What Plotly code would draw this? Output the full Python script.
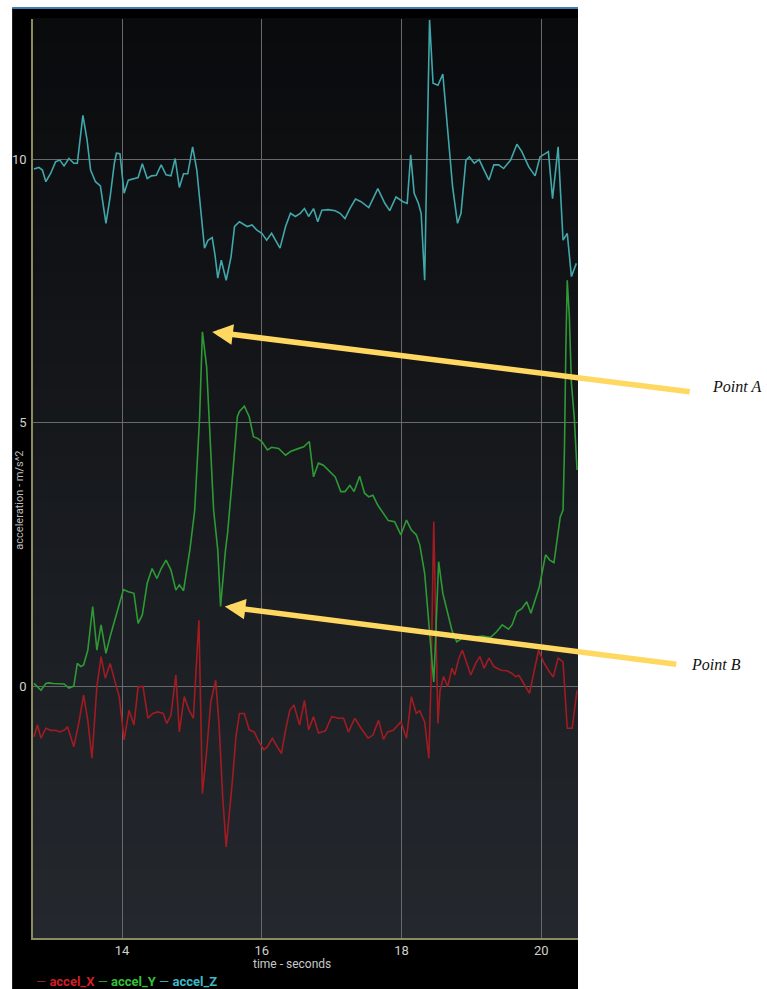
import plotly.graph_objects as go

# ---- data ----
z_t = [12.74, 12.81, 12.86, 12.91, 12.98, 13.05, 13.11, 13.17, 13.24, 13.31, 13.36, 13.44, 13.50, 13.55,
       13.62, 13.69, 13.77, 13.83, 13.89, 13.92, 13.97, 14.03, 14.09, 14.16, 14.23, 14.29, 14.36, 14.42,
       14.49, 14.56, 14.63, 14.70, 14.76, 14.82, 14.88, 14.94, 15.01, 15.07, 15.13, 15.18, 15.23, 15.29,
       15.33, 15.37, 15.42, 15.49, 15.56, 15.61, 15.68, 15.79, 15.86, 15.93, 16.00, 16.07, 16.14, 16.20,
       16.26, 16.34, 16.41, 16.48, 16.55, 16.61, 16.67, 16.74, 16.80, 16.86, 16.95, 17.05, 17.12, 17.19,
       17.26, 17.34, 17.42, 17.53, 17.66, 17.76, 17.83, 17.92, 18.02, 18.08, 18.13, 18.18, 18.24, 18.28,
       18.33, 18.36, 18.40, 18.45, 18.52, 18.59, 18.66, 18.73, 18.80, 18.85, 18.92, 18.97, 19.04, 19.11,
       19.18, 19.25, 19.32, 19.39, 19.46, 19.56, 19.65, 19.72, 19.82, 19.91, 19.98, 20.10, 20.16, 20.24,
       20.31, 20.37, 20.43, 20.50]
z_v = [9.81, 9.84, 9.79, 9.57, 9.73, 9.95, 9.98, 9.87, 10.01, 9.92, 9.92, 10.83, 10.36, 9.79,
       9.57, 9.49, 8.78, 9.28, 9.92, 10.11, 10.10, 9.35, 9.60, 9.63, 9.65, 9.91, 9.63, 9.68,
       9.69, 9.89, 9.70, 9.68, 10.01, 9.46, 9.72, 9.72, 10.23, 9.79, 8.97, 8.31, 8.46, 8.51,
       8.18, 7.74, 8.08, 7.70, 8.15, 8.72, 8.81, 8.72, 8.75, 8.65, 8.59, 8.46, 8.59, 8.46,
       8.31, 8.72, 8.97, 8.91, 8.97, 9.06, 8.91, 9.06, 8.81, 9.03, 9.04, 9.02, 8.97, 8.87,
       9.06, 9.24, 9.19, 9.08, 9.44, 9.16, 9.02, 9.28, 9.19, 9.16, 10.08, 9.35, 9.16, 8.97,
       7.70, 9.85, 12.64, 11.44, 11.40, 11.61, 10.49, 9.47, 8.78, 8.97, 9.98, 10.04, 9.92, 9.99,
       9.79, 9.60, 9.89, 9.89, 9.82, 9.98, 10.28, 10.14, 9.85, 9.68, 10.04, 10.14, 9.25, 10.23,
       8.46, 8.59, 7.77, 8.02]

y_t = [12.74, 12.79, 12.84, 12.91, 12.95, 13.02, 13.10, 13.17, 13.24, 13.31, 13.36, 13.41, 13.45, 13.51,
       13.58, 13.64, 13.70, 13.77, 13.83, 13.90, 13.95, 14.02, 14.09, 14.17, 14.23, 14.29, 14.36, 14.43,
       14.50, 14.56, 14.63, 14.70, 14.77, 14.82, 14.88, 14.94, 14.97, 15.04, 15.11, 15.15, 15.21, 15.25,
       15.31, 15.37, 15.41, 15.48, 15.51, 15.58, 15.65, 15.68, 15.75, 15.82, 15.88, 15.94, 16.00, 16.08,
       16.14, 16.24, 16.34, 16.41, 16.48, 16.53, 16.60, 16.68, 16.74, 16.81, 16.88, 16.95, 17.05, 17.13,
       17.19, 17.26, 17.32, 17.40, 17.47, 17.53, 17.59, 17.66, 17.74, 17.81, 17.90, 17.99, 18.07, 18.14,
       18.21, 18.26, 18.33, 18.40, 18.46, 18.48, 18.53, 18.59, 18.65, 18.72, 18.79, 18.87, 18.97, 19.06,
       19.16, 19.27, 19.36, 19.44, 19.53, 19.58, 19.65, 19.72, 19.79, 19.85, 19.91, 19.97, 20.06, 20.12,
       20.18, 20.27, 20.31, 20.33, 20.35, 20.37, 20.40, 20.43, 20.47, 20.51]
y_v = [0.05, -0.01, -0.08, 0.05, 0.06, 0.05, 0.05, 0.04, -0.04, 0.00, 0.43, 0.37, 0.40, 0.68,
       1.51, 0.68, 1.16, 0.62, 0.94, 1.25, 1.51, 1.83, 1.79, 1.76, 1.19, 1.35, 1.95, 2.23,
       2.04, 2.23, 2.39, 2.20, 1.82, 1.92, 1.81, 2.33, 2.58, 3.34, 5.11, 6.72, 6.06, 4.98,
       3.34, 2.58, 1.51, 2.58, 2.90, 3.97, 5.11, 5.21, 5.31, 5.11, 4.73, 4.70, 4.64, 4.48,
       4.53, 4.51, 4.38, 4.45, 4.49, 4.51, 4.54, 4.64, 3.97, 4.23, 4.19, 4.10, 3.97, 3.69,
       3.69, 3.81, 3.69, 3.98, 3.66, 3.59, 3.62, 3.43, 3.28, 3.14, 3.12, 2.87, 3.15, 2.96,
       2.87, 2.68, 2.14, 1.06, 0.08, 0.68, 2.36, 1.76, 1.44, 1.06, 0.84, 0.91, 0.92, 0.94,
       0.95, 0.92, 1.03, 1.16, 1.08, 1.16, 1.41, 1.47, 1.60, 1.38, 1.63, 1.88, 2.49, 2.39,
       2.34, 3.21, 3.34, 4.48, 6.38, 7.70, 7.01, 5.74, 5.11, 4.10]

x_t = [12.74, 12.79, 12.84, 12.91, 12.98, 13.05, 13.11, 13.18, 13.22, 13.31, 13.38, 13.45, 13.51, 13.57,
       13.64, 13.70, 13.76, 13.83, 13.90, 13.96, 14.03, 14.10, 14.17, 14.23, 14.30, 14.37, 14.44, 14.51,
       14.59, 14.64, 14.70, 14.77, 14.82, 14.89, 14.96, 15.02, 15.10, 15.15, 15.21, 15.27, 15.34, 15.39,
       15.44, 15.49, 15.58, 15.63, 15.68, 15.75, 15.82, 15.89, 15.96, 16.03, 16.08, 16.15, 16.22, 16.28,
       16.34, 16.40, 16.46, 16.54, 16.61, 16.67, 16.74, 16.81, 16.91, 17.00, 17.10, 17.17, 17.24, 17.33,
       17.42, 17.52, 17.59, 17.67, 17.74, 17.80, 17.88, 17.99, 18.07, 18.14, 18.21, 18.26, 18.33, 18.39,
       18.42, 18.46, 18.48, 18.52, 18.55, 18.60, 18.66, 18.72, 18.76, 18.82, 18.87, 18.93, 18.99, 19.06,
       19.12, 19.18, 19.25, 19.32, 19.42, 19.51, 19.58, 19.63, 19.68, 19.72, 19.77, 19.83, 19.89, 19.96,
       20.03, 20.10, 20.17, 20.24, 20.31, 20.37, 20.44, 20.51]
x_v = [-0.96, -0.74, -0.99, -0.80, -0.84, -0.84, -0.87, -0.83, -0.77, -1.15, -0.71, -0.17, -0.65, -1.37,
       -0.01, 0.56, 0.15, 0.43, 0.08, -0.20, -1.02, -0.46, -0.74, -0.01, -0.01, -0.61, -0.52, -0.49,
       -0.52, -0.71, -0.55, 0.21, -0.87, -0.20, -0.46, -0.61, 1.25, -2.04, -1.25, -0.30, 0.11, -0.77,
       -2.10, -3.05, -1.78, -0.96, -0.52, -0.52, -0.83, -0.87, -1.06, -1.21, -1.15, -0.99, -1.15, -1.28,
       -0.83, -0.46, -0.36, -0.74, -0.27, -0.83, -0.58, -0.89, -0.85, -0.58, -0.61, -0.61, -0.87, -0.61,
       -0.80, -0.99, -0.93, -0.65, -1.01, -0.87, -0.84, -0.68, -0.99, -0.20, -0.52, -0.47, -0.68, -1.37,
       0.05, 3.12, 1.82, -0.71, -0.08, 0.18, -0.01, 0.34, 0.21, 0.53, 0.68, 0.43, 0.21, 0.43,
       0.56, 0.34, 0.53, 0.37, 0.30, 0.29, 0.24, 0.18, 0.20, 0.11, -0.01, -0.14, 0.24, 0.68,
       0.46, 0.30, 0.17, 0.53, 0.46, -0.80, -0.80, -0.08]

series_names = ["accel_X", "accel_Y", "accel_Z"]
x_ticks = [14, 16, 18, 20]
y_ticks = [0, 5, 10]

# ---- styling ----
line_cols = {"accel_X": "#a11c22", "accel_Y": "#2e9a35", "accel_Z": "#41a7aa"}
label_cols = {"accel_X": "#d21e22", "accel_Y": "#33c038", "accel_Z": "#3bb8c6"}

fig = go.Figure()
for name, tt, vv in [("accel_X", x_t, x_v), ("accel_Y", y_t, y_v), ("accel_Z", z_t, z_v)]:
    fig.add_trace(go.Scatter(x=tt, y=vv, mode="lines", name=name,
                             line=dict(color=line_cols[name], width=1.6), showlegend=False))

shapes = []
# dark panel behind the chart
shapes.append(dict(type="rect", xref="paper", yref="paper", x0=-0.0383, x1=1.0, y0=-0.056, y1=1.0120,
                   fillcolor="#000000", line=dict(width=0), layer="below"))
# gradient plot background
n = 40
top = (10, 11, 13)
bot = (36, 40, 46)
for i in range(n):
    f = i / (n - 1)
    c = tuple(int(round(bot[k] + (top[k] - bot[k]) * f)) for k in range(3))
    shapes.append(dict(type="rect", xref="paper", yref="paper", x0=0, x1=1,
                       y0=i / n, y1=(i + 1) / n + 0.001,
                       fillcolor="rgb(%d,%d,%d)" % c, line=dict(width=0), layer="below"))
# thin blue top border of the panel
shapes.append(dict(type="line", xref="paper", yref="paper", x0=-0.0383, x1=1.0, y0=1.0120, y1=1.0120,
                   line=dict(color="#3f7fae", width=2), layer="below"))

legend_text = " ".join(
    "<span style='color:%s'>—</span> <span style='color:%s'><b>%s</b></span>" % (line_cols[n_], label_cols[n_], n_)
    for n_ in series_names)

annotations = [
    dict(xref="paper", yref="paper", x=0.002, y=-0.0468, xanchor="left", yanchor="middle",
         text=legend_text, showarrow=False, font=dict(family="Roboto", size=13)),
    dict(xref="paper", yref="paper", x=0.475, y=-0.0285, xanchor="center", yanchor="middle",
         text="time - seconds", showarrow=False, font=dict(family="Roboto", size=12, color="#c8c8c8")),
    dict(xref="paper", yref="paper", x=-0.0255, y=0.476, xanchor="center", yanchor="middle",
         text="acceleration - m/s^2", textangle=-90, showarrow=False,
         font=dict(family="Roboto", size=11, color="#bdbdbd")),
    # arrows
    dict(xref="x", yref="y", x=15.29, y=6.72, ax=479, ay=60, axref="pixel", ayref="pixel",
         showarrow=True, arrowhead=2, arrowsize=0.75, arrowwidth=5.5, arrowcolor="#ffd862",
         text="", standoff=0),
    dict(xref="x", yref="y", x=15.47, y=1.51, ax=453, ay=58, axref="pixel", ayref="pixel",
         showarrow=True, arrowhead=2, arrowsize=0.75, arrowwidth=5.5, arrowcolor="#ffd862",
         text="", standoff=0),
    dict(xref="paper", yref="paper", x=1.2914, y=0.5996, xanchor="center", yanchor="middle",
         text="<i>Point A</i>", showarrow=False,
         font=dict(family="Liberation Serif", size=16, color="#111111")),
    dict(xref="paper", yref="paper", x=1.2532, y=0.2971, xanchor="center", yanchor="middle",
         text="<i>Point B</i>", showarrow=False,
         font=dict(family="Liberation Serif", size=16, color="#111111")),
]

fig.update_layout(
    width=767, height=989,
    margin=dict(l=29, r=189, t=19, b=51),
    paper_bgcolor="#ffffff",
    plot_bgcolor="rgba(0,0,0,0)",
    shapes=shapes,
    annotations=annotations,
    showlegend=False,
    xaxis=dict(range=[12.726, 20.524], tickvals=x_ticks, ticktext=[str(v) for v in x_ticks],
               showgrid=True, gridcolor="#696969", gridwidth=1.2, zeroline=False,
               showline=True, linecolor="#8d8b5c", linewidth=1.5, ticks="",
               tickfont=dict(family="Roboto", size=13, color="#d0d0d0")),
    yaxis=dict(range=[-4.78, 12.657], tickvals=y_ticks, ticktext=[str(v) for v in y_ticks],
               showgrid=True, gridcolor="#696969", gridwidth=1.2, zeroline=False,
               showline=True, linecolor="#8d8b5c", linewidth=1.5, ticks="",
               ticklabelstandoff=2,
               tickfont=dict(family="Roboto", size=13, color="#d0d0d0")),
)

fig.write_html("out.html", config={"displayModeBar": False},
               post_script="document.body.style.margin='0';document.body.style.overflow='hidden';")
